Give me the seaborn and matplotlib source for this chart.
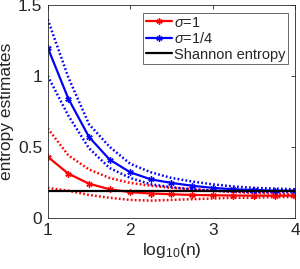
import numpy as np
import pandas as pd
import seaborn as sns
import matplotlib.pyplot as plt

# sample sizes on log10 scale
log_n = [1, 1.25, 1.5, 1.75, 2, 2.25, 2.5, 2.75, 3, 3.25, 3.5, 3.75, 4]

# sigma = 1 (red)
s1_mean = [0.43, 0.31, 0.24, 0.20, 0.18, 0.17, 0.165, 0.16, 0.158, 0.156, 0.155, 0.155, 0.155]
s1_upper = [0.63, 0.44, 0.34, 0.28, 0.245, 0.225, 0.21, 0.20, 0.19, 0.18, 0.175, 0.17, 0.165]
s1_lower = [0.21, 0.19, 0.16, 0.14, 0.125, 0.12, 0.125, 0.13, 0.135, 0.14, 0.14, 0.145, 0.145]

# sigma = 1/4 (blue)
s4_mean = [1.20, 0.84, 0.57, 0.41, 0.32, 0.27, 0.245, 0.225, 0.21, 0.20, 0.195, 0.19, 0.19]
s4_upper = [1.40, 0.99, 0.66, 0.50, 0.38, 0.32, 0.28, 0.255, 0.235, 0.22, 0.21, 0.205, 0.20]
s4_lower = [1.00, 0.72, 0.49, 0.35, 0.28, 0.235, 0.215, 0.20, 0.19, 0.185, 0.18, 0.18, 0.18]

shannon = 0.19

df = pd.DataFrame({
    "log_n": log_n,
    "s1_mean": s1_mean, "s1_upper": s1_upper, "s1_lower": s1_lower,
    "s4_mean": s4_mean, "s4_upper": s4_upper, "s4_lower": s4_lower,
})
df["shannon"] = shannon

sns.set_style("white")
plt.rcParams["font.family"] = ["Liberation Sans", "DejaVu Sans"]
plt.rcParams["mathtext.fontset"] = "custom"
plt.rcParams["mathtext.it"] = "Liberation Sans:italic"
plt.rcParams["mathtext.rm"] = "Liberation Sans"

fig = plt.figure(figsize=(3.0, 2.69), dpi=100)
ax = fig.add_axes([0.159, 0.191, 0.825, 0.790])

asterisk = (6, 2, 0)

# dotted bands
for col, c in [("s1_upper", "red"), ("s1_lower", "red"), ("s4_upper", "blue"), ("s4_lower", "blue")]:
    sns.lineplot(data=df, x="log_n", y=col, color=c, lw=1.8, ax=ax, legend=False)
    ax.lines[-1].set_linestyle((0, (0.7, 0.9)))

# means with asterisk markers
for col, c, lab in [("s1_mean", "red", r"$\sigma$=1"), ("s4_mean", "blue", r"$\sigma$=1/4")]:
    sns.lineplot(data=df, x="log_n", y=col, color=c, lw=1.6, marker=asterisk,
                 ms=4.5, mew=1.0, mec=c, ax=ax, label=lab)

sns.lineplot(data=df, x="log_n", y="shannon", color="black", lw=1.6, ax=ax,
             label="Shannon entropy")

ax.set_xlim(1, 4)
ax.set_ylim(0, 1.5)
ax.set_xticks([1, 2, 3, 4])
ax.set_yticks([0, 0.5, 1, 1.5])
ax.set_xticklabels(["1", "2", "3", "4"])
ax.set_yticklabels(["0", "0.5", "1", "1.5"])
ax.tick_params(direction="in", length=3, width=0.6, top=True, right=True,
               labelsize=12.5, colors="#262626", pad=4)
for s in ax.spines.values():
    s.set_linewidth(0.6)
    s.set_color("#262626")

ax.set_xlabel(r"log$_{10}$(n)", fontsize=12.5, color="#262626", labelpad=2)
ax.set_ylabel("entropy estimates", fontsize=12.5, color="#262626", labelpad=3)

leg = ax.legend(loc="upper right", bbox_to_anchor=(0.99, 0.985), fontsize=10.5, frameon=True,
                fancybox=False, edgecolor="#262626", handlelength=1.8, handletextpad=0.1,
                borderpad=0.2, labelspacing=0.1, borderaxespad=0.3)
leg.get_frame().set_linewidth(0.6)

fig.savefig("out.png", dpi=100)
